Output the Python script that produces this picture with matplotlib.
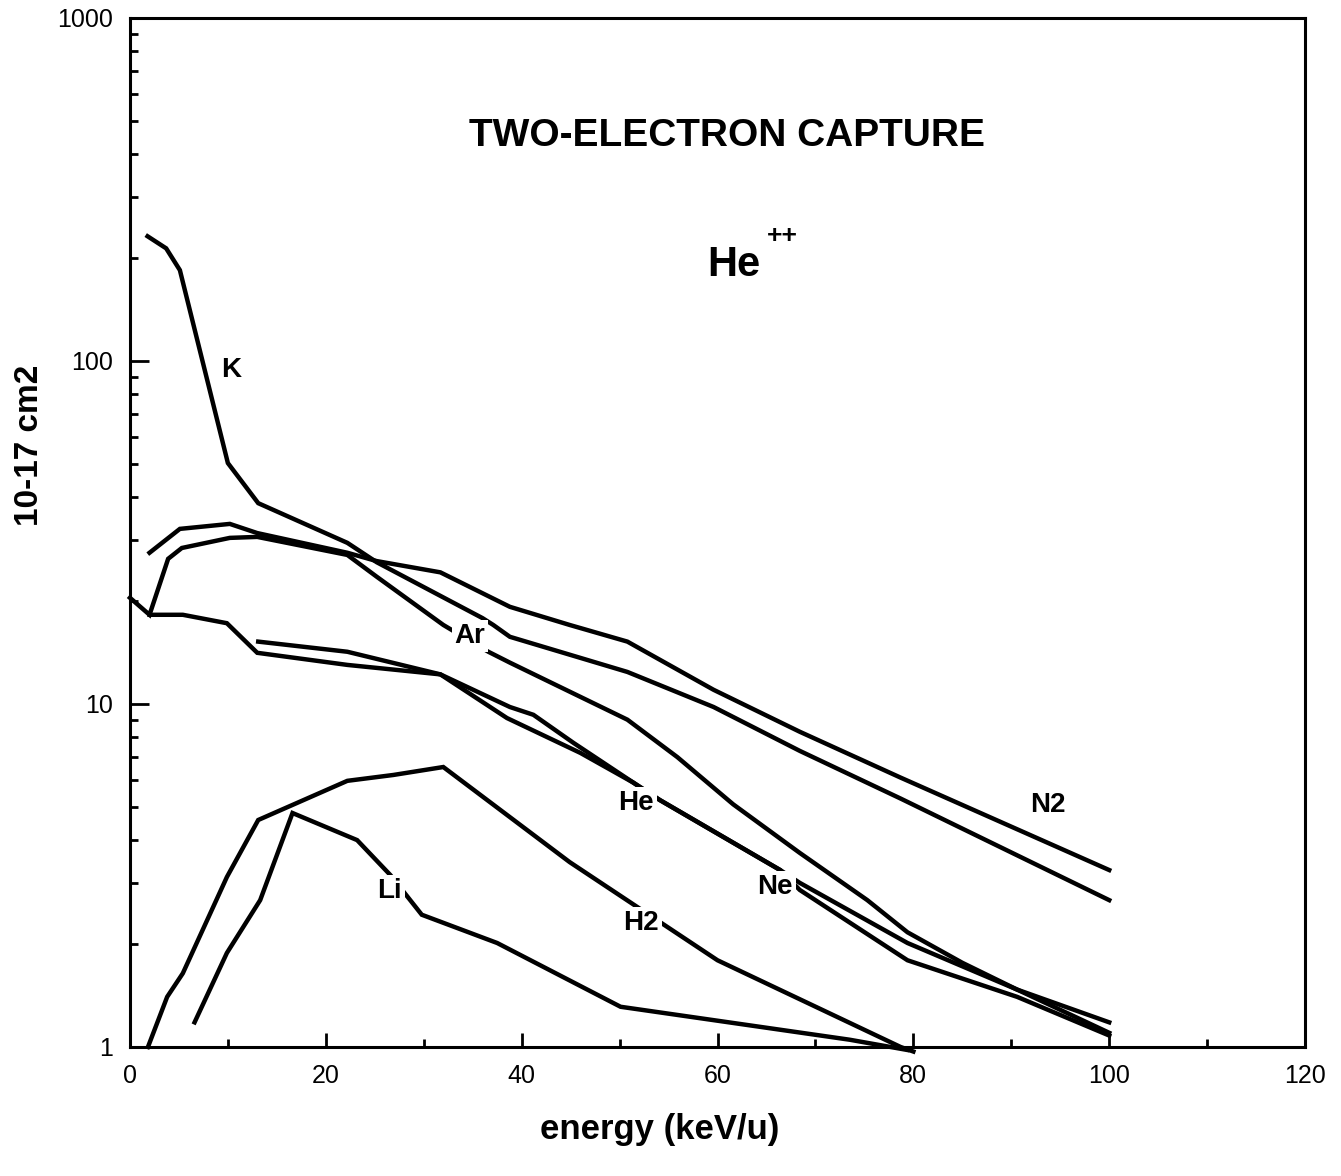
import matplotlib as mpl
import matplotlib.pyplot as plt
from matplotlib.ticker import FixedLocator, FixedFormatter, LogLocator, NullFormatter

mpl.rcParams.update({
    "font.family": ["Liberation Sans", "DejaVu Sans"],
    "axes.linewidth": 2.2,
})

# --- curve data (energy keV/u, cross section 1e-17 cm2) ---
k_x = [1.8, 3.7, 5.1, 10.0, 13.1, 22.2, 25.2, 36.0, 37.1, 38.8, 50.8, 59.6, 68.4, 78.7, 100]
k_y = [231, 213, 184, 50.4, 38.5, 29.5, 25.9, 17.8, 17.0, 15.7, 12.4, 9.8, 7.3, 5.3, 2.68]

n2_x = [2.0, 5.1, 10.2, 13.0, 22.2, 25.2, 31.7, 38.8, 44.9, 50.8, 59.6, 68.4, 78.7, 100]
n2_y = [27.6, 32.4, 33.5, 31.5, 27.6, 26.1, 24.2, 19.2, 17.0, 15.2, 11.0, 8.3, 6.1, 3.28]

ar_x = [0.0, 2.0, 3.9, 5.3, 10.2, 13.0, 22.2, 25.2, 32.0, 36.6, 38.8, 50.8, 55.9, 61.6,
        68.4, 75.3, 79.4, 85.0, 90.6, 100]
ar_y = [20.4, 18.2, 26.5, 28.5, 30.5, 30.7, 27.2, 23.5, 17.0, 14.2, 13.2, 9.0, 7.0, 5.1,
        3.68, 2.68, 2.16, 1.76, 1.47, 1.10]

he_x = [13.1, 22.2, 31.7, 38.8, 41.2, 45.3, 51.4, 54.1, 66.4, 68.4, 79.4, 90.6, 100]
he_y = [15.2, 14.2, 12.2, 9.8, 9.3, 7.7, 5.9, 5.25, 3.28, 3.01, 2.01, 1.47, 1.18]

ne_x = [2.0, 5.4, 9.9, 13.0, 22.2, 31.7, 38.5, 46.0, 51.4, 54.1, 66.4, 68.4, 79.4, 90.6, 100]
ne_y = [18.2, 18.2, 17.2, 14.1, 13.0, 12.2, 9.1, 7.2, 5.9, 5.25, 3.28, 2.87, 1.79, 1.40, 1.08]

h2_x = [1.84, 3.8, 5.4, 9.9, 13.1, 22.2, 26.9, 32.0, 44.9, 60.0, 78.7, 80.0]
h2_y = [1.0, 1.40, 1.64, 3.13, 4.59, 5.97, 6.21, 6.55, 3.46, 1.79, 1.0, 0.97]

li_x = [6.6, 9.9, 13.3, 16.6, 23.2, 26.6, 29.8, 37.5, 50.1, 73.5, 79.4]
li_y = [1.18, 1.88, 2.68, 4.81, 4.01, 3.17, 2.43, 2.01, 1.31, 1.05, 0.98]

curves = [(k_x, k_y), (n2_x, n2_y), (ar_x, ar_y), (he_x, he_y), (ne_x, ne_y),
          (h2_x, h2_y), (li_x, li_y)]

# curve labels: text, x, y, gap in line
labels = [("K", 10.3, 94, False), ("Ar", 34.7, 15.8, True), ("He", 51.7, 5.15, True),
          ("Ne", 65.9, 2.93, True), ("N2", 93.7, 5.08, False), ("Li", 26.5, 2.85, True),
          ("H2", 52.2, 2.30, True)]

y_ticks = [1, 10, 100, 1000]
y_tick_labels = ["1", "10", "100", "1000"]
x_ticks = [0, 20, 40, 60, 80, 100, 120]

fig = plt.figure(figsize=(13.41, 11.76), dpi=100)
ax = fig.add_axes([0.0969, 0.1097, 0.8763, 0.875])

for cx, cy in curves:
    ax.plot(cx, cy, color="black", linewidth=3.2, solid_joinstyle="miter", clip_on=False)

for name, lx, ly, gap in labels:
    box = dict(facecolor="white", edgecolor="none", pad=2) if gap else None
    ax.text(lx, ly, name, fontsize=20, fontweight="bold", ha="center", va="center",
            bbox=box, zorder=5)

ax.text(0.508, 0.885, "TWO-ELECTRON CAPTURE", transform=ax.transAxes, fontsize=28,
        fontweight="bold", ha="center", va="center")
ax.text(0.514, 0.76, "He", transform=ax.transAxes, fontsize=30,
        fontweight="bold", ha="center", va="center")
ax.text(0.555, 0.788, "++", transform=ax.transAxes, fontsize=19,
        fontweight="bold", ha="center", va="center")

ax.set_yscale("log")
ax.set_xlim(0, 120)
ax.set_ylim(1, 1000)

ax.yaxis.set_major_locator(FixedLocator(y_ticks))
ax.yaxis.set_major_formatter(FixedFormatter(y_tick_labels))
ax.yaxis.set_minor_locator(LogLocator(base=10, subs=range(2, 10)))
ax.yaxis.set_minor_formatter(NullFormatter())
ax.set_xticks(x_ticks)
ax.set_xticks(range(10, 120, 20), minor=True)

ax.tick_params(axis="both", which="major", direction="in", width=2, length=10, labelsize=18, pad=12)
ax.tick_params(axis="y", which="major", length=14)
ax.tick_params(axis="both", which="minor", direction="in", width=2, length=6)

ax.set_xlabel("energy (keV/u)", fontsize=25, fontweight="bold")
ax.set_ylabel("10-17 cm2", fontsize=24, fontweight="bold")
ax.xaxis.set_label_coords(0.451, -0.064)
ax.yaxis.set_label_coords(-0.072, 0.585)

plt.savefig("out.png", dpi=100)
plt.close()
